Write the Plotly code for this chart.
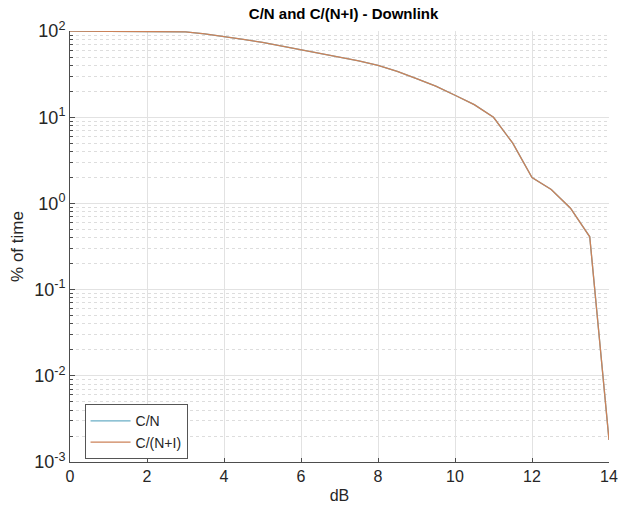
import plotly.graph_objects as go

# Data
db = [0, 0.5, 1, 1.5, 2, 2.5, 3, 3.5, 4, 4.5, 5, 5.5, 6, 6.5, 7, 7.5, 8, 8.5, 9,
      9.5, 10, 10.5, 11, 11.5, 12, 12.5, 13, 13.5, 14]
pct_cn = [100, 100, 100, 100, 100, 100, 98, 93, 87, 80, 74, 67, 61, 55, 50, 45, 40,
          34, 28, 23, 18, 14, 10, 5, 2, 1.45, 0.88, 0.41, 0.0018]
pct_cni = [100, 100, 100, 100, 100, 100, 98, 93, 87, 80, 74, 67, 61, 55, 50, 45, 40,
           34, 28, 23, 18, 14, 10, 5, 2, 1.45, 0.88, 0.41, 0.0018]
series_names = ["C/N", "C/(N+I)"]
x_ticks = [0, 2, 4, 6, 8, 10, 12, 14]
y_tickvals = [0.001, 0.01, 0.1, 1, 10, 100]
y_ticktext = ["10<sup>-3</sup>", "10<sup>-2</sup>", "10<sup>-1</sup>",
              "10<sup>0</sup>", "10<sup>1</sup>", "10<sup>2</sup>"]

FONT = "Liberation Sans, Arial, sans-serif"
TXT = "#262626"

fig = go.Figure()
fig.add_trace(go.Scatter(x=db, y=pct_cn, mode="lines", name=series_names[0],
                         line=dict(color="#6aaec6", width=1.3)))
fig.add_trace(go.Scatter(x=db, y=pct_cni, mode="lines", name=series_names[1],
                         line=dict(color="#cc8258", width=1.3)))

fig.update_layout(
    width=627, height=515,
    margin=dict(l=70, r=9, t=31, b=53),
    paper_bgcolor="white", plot_bgcolor="white",
    font=dict(family=FONT, size=14, color=TXT),
    title=dict(text="<b>C/N and C/(N+I) - Downlink</b>", x=0.548, xanchor="center",
               y=1 - 14 / 515, yanchor="middle", yref="container",
               font=dict(family=FONT, size=15, color="#000000")),
    legend=dict(x=0.027, y=0.134, xanchor="left", yanchor="top",
                bgcolor="white", bordercolor="#555555", borderwidth=1,
                font=dict(family=FONT, size=14, color=TXT),
                tracegroupgap=0, itemwidth=40),
    showlegend=True,
)

fig.update_xaxes(
    range=[0, 14], tickvals=x_ticks, ticktext=[str(v) for v in x_ticks],
    showgrid=True, gridcolor="#e2e2e2", gridwidth=1,
    showline=True, linecolor="#4d4d4d", linewidth=1, mirror=False,
    ticks="inside", ticklen=4, tickcolor="#4d4d4d",
    zeroline=False,
    tickfont=dict(family=FONT, size=16, color=TXT),
    title=dict(text="dB", font=dict(family=FONT, size=16, color=TXT), standoff=5),
)

fig.update_yaxes(
    type="log", range=[-3, 2.001],
    tickmode="array", tickvals=y_tickvals, ticktext=y_ticktext,
    showgrid=True, gridcolor="#e2e2e2", gridwidth=1,
    showline=True, linecolor="#4d4d4d", linewidth=1, mirror=False,
    ticks="inside", ticklen=5, tickcolor="#4d4d4d",
    zeroline=False,
    tickfont=dict(family=FONT, size=18, color=TXT),
    minor=dict(dtick="D1", ticks="inside", ticklen=3, tickcolor="#4d4d4d",
               showgrid=True, gridcolor="#dddddd", griddash="dot", gridwidth=1),
    title=dict(text="% of time", font=dict(family=FONT, size=17, color=TXT), standoff=6),
)

fig.write_html("out.html")
